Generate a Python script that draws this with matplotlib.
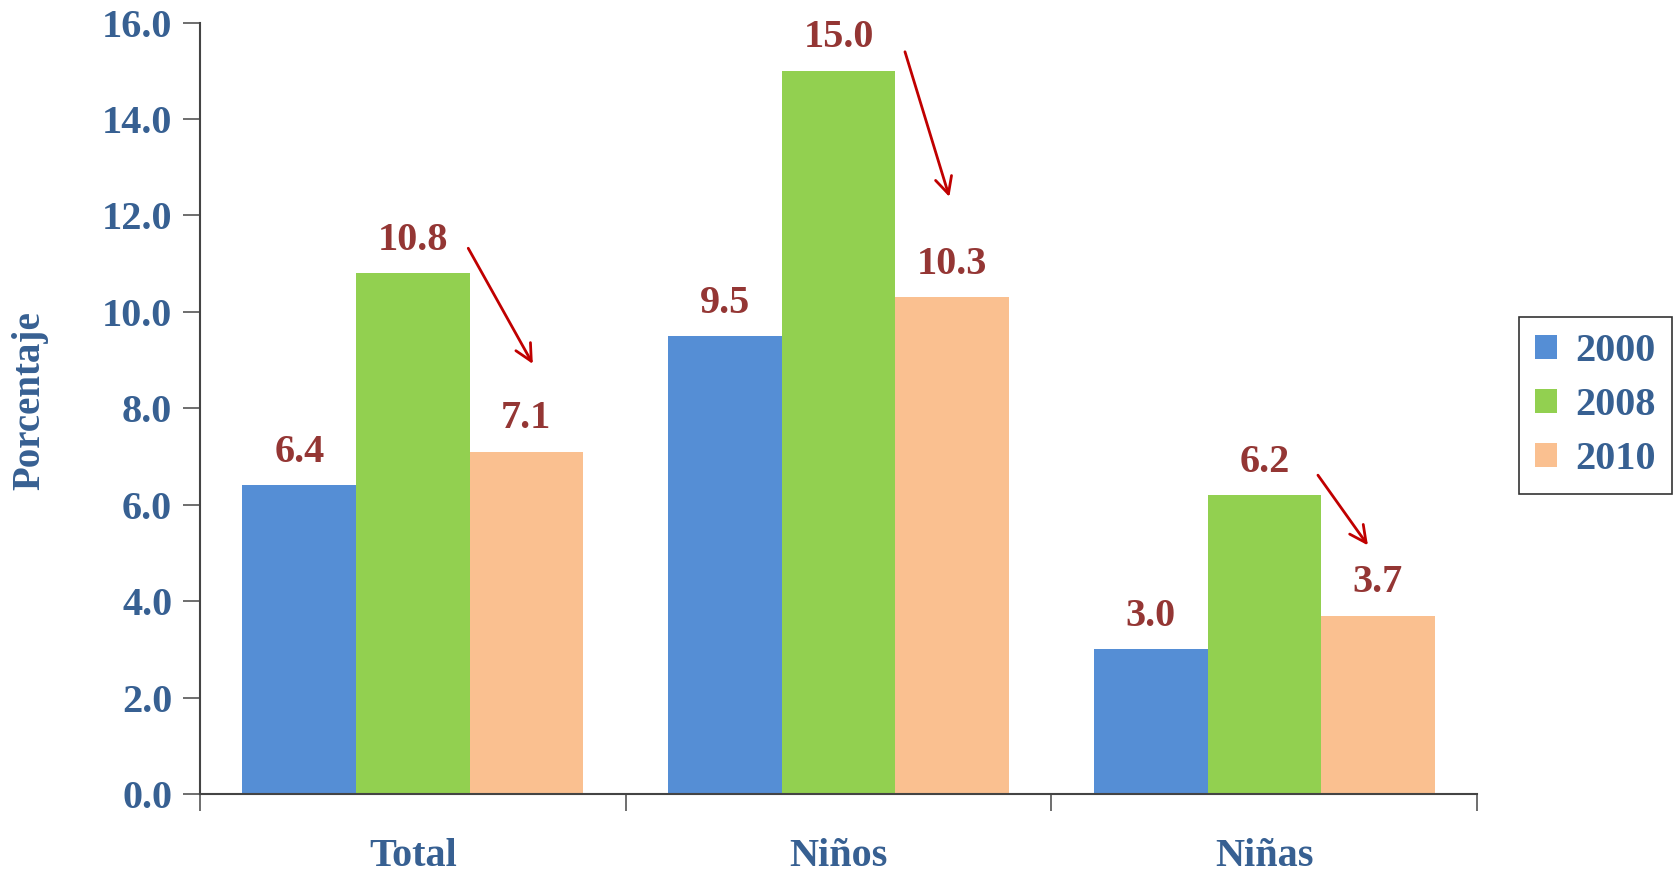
import matplotlib
matplotlib.use("Agg")
import matplotlib.pyplot as plt
import numpy as np
from matplotlib.ticker import FixedLocator

categories = ["Total", "Niños", "Niñas"]
series_names = ["2000", "2008", "2010"]
values_2000 = [6.4, 9.5, 3.0]
values_2008 = [10.8, 15.0, 6.2]
values_2010 = [7.1, 10.3, 3.7]
y_ticks = [0.0, 2.0, 4.0, 6.0, 8.0, 10.0, 12.0, 14.0, 16.0]

# trend arrows (start -> end, in data coordinates)
arrows = [
    ((0.127, 11.37), (0.285, 8.87)),
    ((1.154, 15.45), (1.262, 12.33)),
    ((2.122, 6.66), (2.247, 5.11)),
]

colors = ["#558ED5", "#92D050", "#FAC090"]
tick_color = "#376092"
label_color = "#943634"
arrow_color = "#C00000"

plt.rcParams['font.family'] = ['Liberation Serif', 'DejaVu Serif']
plt.rcParams['font.weight'] = 'bold'

fig = plt.figure(figsize=(16.73, 8.69), dpi=100)
ax = fig.add_axes([0.1195, 0.0863, 0.7635, 0.8877])

x = np.arange(len(categories))
width = 0.2667
series = [values_2000, values_2008, values_2010]
for i, (name, vals, c) in enumerate(zip(series_names, series, colors)):
    pos = x + (i - 1) * width
    ax.bar(pos, vals, width=width, color=c, label=name, zorder=2)
    for p, v in zip(pos, vals):
        ax.text(p, v + 0.3, f"{v:.1f}", ha="center", va="bottom",
                fontsize=29, fontweight="bold", color=label_color)

for (x0, y0), (x1, y1) in arrows:
    ax.annotate("", xy=(x1, y1), xytext=(x0, y0),
                arrowprops=dict(arrowstyle="->", color=arrow_color, lw=2,
                                mutation_scale=30))

ax.set_xlim(-0.5, 2.5)
ax.set_ylim(0, 16)
ax.set_yticks(y_ticks)
ax.set_yticklabels([f"{t:.1f}" for t in y_ticks])
ax.set_xticks(x)
ax.set_xticklabels(categories)
ax.xaxis.set_minor_locator(FixedLocator([-0.5, 0.5, 1.5, 2.5]))
ax.tick_params(axis="x", which="major", length=0, pad=32, labelsize=29,
               labelcolor=tick_color)
ax.tick_params(axis="x", which="minor", length=12, width=1.2, color="#555555",
               direction="out")
ax.tick_params(axis="y", length=12, width=1.2, color="#555555", direction="out",
               labelsize=29, labelcolor=tick_color, pad=8)
for lab in ax.get_xticklabels() + ax.get_yticklabels():
    lab.set_fontweight("bold")

for s in ["top", "right"]:
    ax.spines[s].set_visible(False)
for s in ["left", "bottom"]:
    ax.spines[s].set_color("#444444")
    ax.spines[s].set_linewidth(1.5)

ax.set_ylabel("Porcentaje", fontsize=28, fontweight="bold", color=tick_color)
ax.yaxis.set_label_coords(-0.119, 0.51)

leg = fig.legend(loc="upper left", bbox_to_anchor=(0.908, 0.635),
                 frameon=True, fancybox=False, edgecolor="black",
                 fontsize=29, handlelength=0.55, handleheight=0.55,
                 handletextpad=0.45, labelspacing=0.42, borderpad=0.4,
                 borderaxespad=0)
leg.get_frame().set_linewidth(1.2)
for t in leg.get_texts():
    t.set_color(tick_color)
    t.set_fontweight("bold")

fig.savefig("out.png", dpi=100)
